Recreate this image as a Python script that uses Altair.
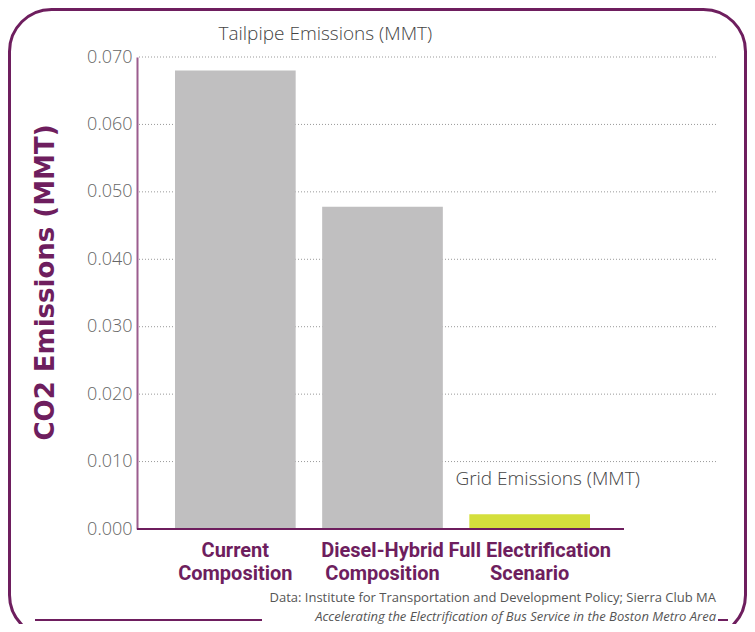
import altair as alt
import pandas as pd

categories = ["Current\nComposition", "Diesel-Hybrid\nComposition", "Full Electrification\nScenario"]
values = [0.068, 0.0478, 0.0022]
series = ["Tailpipe", "Tailpipe", "Grid"]
y_ticks = [0, 0.01, 0.02, 0.03, 0.04, 0.05, 0.06, 0.07]

ann_labels = ["Tailpipe Emissions (MMT)", "Grid Emissions (MMT)"]
ann_cats = [categories[0], categories[2]]
ann_vals = [0.0734, 0.0074]
ann_dx = [90, 18]

source_lines = ["Data: Institute for Transportation and Development Policy; Sierra Club MA",
                "Accelerating the Electrification of Bus Service in the Boston Metro Area"]

PURPLE = "#6e1e5e"
df = pd.DataFrame({"cat": categories, "val": values, "series": series})

W, H = 579, 472

xscale = alt.Scale(domain=categories, range=[38, 453], paddingInner=0.18, paddingOuter=0)
yscale = alt.Scale(domain=[0, 0.07], nice=False)

yaxis = alt.Axis(title="CO2 Emissions (MMT)", values=y_ticks, grid=False,
                 format=".3f", ticks=False, domainColor="#9b5d8e", domainWidth=2,
                 labelFont="Open Sans", labelFontWeight=300, labelFontSize=18,
                 labelColor="#666666", labelPadding=5,
                 titleFont="DejaVu Sans", titleFontWeight="bold", titleFontSize=26,
                 titleColor=PURPLE, titlePadding=28, titleY=225)

grid = alt.Chart(pd.DataFrame({"v": y_ticks[1:]})).mark_rule(
    color="#999999", strokeDash=[1, 2], strokeWidth=1).encode(
    y=alt.Y("v:Q", scale=yscale, axis=yaxis, title="CO2 Emissions (MMT)"),
    x=alt.value(2), x2=alt.value(W))

bars = alt.Chart(df).mark_bar().encode(
    x=alt.X("cat:N", scale=xscale, sort=categories,
            axis=alt.Axis(title=None, domain=False, ticks=False, labelAngle=0, grid=False,
                          labelExpr="split(datum.label, '\\n')",
                          labelFont="Roboto", labelFontWeight="bold", labelFontSize=20,
                          labelColor=PURPLE, labelPadding=11, labelLineHeight=23,
                          labelBaseline="top")),
    y=alt.Y("val:Q", scale=yscale, axis=yaxis, title="CO2 Emissions (MMT)"),
    color=alt.Color("series:N", scale=alt.Scale(domain=["Tailpipe", "Grid"], range=["#c0bfc0", "#d4df3c"]),
                    legend=None),
)

baseline = alt.Chart(pd.DataFrame({"v": [0]})).mark_rule(color=PURPLE, strokeWidth=2).encode(
    y=alt.Y("v:Q", scale=yscale), x=alt.value(0), x2=alt.value(487)
)

ann_layers = []
for lab, cat, val, dx in zip(ann_labels, ann_cats, ann_vals, ann_dx):
    ann_layers.append(
        alt.Chart(pd.DataFrame({"label": [lab], "cat": [cat], "val": [val]})).mark_text(
            font="Open Sans", fontWeight=300, fontSize=19, color="#444444", align="center", dx=dx).encode(
            x=alt.X("cat:N", scale=xscale, sort=categories),
            y=alt.Y("val:Q", scale=yscale),
            text="label:N",
        )
    )

src1 = alt.Chart(pd.DataFrame({"t": [source_lines[0]]})).mark_text(
    font="Open Sans", fontSize=13, color="#555555", align="right", baseline="alphabetic").encode(
    text="t:N", x=alt.value(579), y=alt.value(545))
src2 = alt.Chart(pd.DataFrame({"t": [source_lines[1]]})).mark_text(
    font="Open Sans", fontSize=13, color="#555555", align="right", baseline="alphabetic",
    fontStyle="italic").encode(
    text="t:N", x=alt.value(579), y=alt.value(564))

border = alt.Chart(pd.DataFrame({"a": [0]})).mark_rect(
    fill=None, stroke=PURPLE, strokeWidth=3, cornerRadius=42).encode(
    x=alt.value(-127.5), x2=alt.value(608.5), y=alt.value(-47.5), y2=alt.value(580))

line1 = alt.Chart(pd.DataFrame({"a": [0]})).mark_rule(color=PURPLE, strokeWidth=2).encode(
    x=alt.value(-102), x2=alt.value(125), y=alt.value(563))
line2 = alt.Chart(pd.DataFrame({"a": [0]})).mark_rule(color=PURPLE, strokeWidth=2).encode(
    x=alt.value(581), x2=alt.value(591), y=alt.value(563))

chart = alt.layer(border, grid, bars, baseline, *ann_layers, src1, src2, line1, line2).properties(
    width=W, height=H,
    background="white",
    autosize=alt.AutoSizeParams(type="none"),
    padding={"left": 129, "top": 49, "right": 31, "bottom": 95},
).configure_view(strokeWidth=0, stroke=None)

chart.save("out.html", embed_options={"renderer": "svg", "actions": False})
